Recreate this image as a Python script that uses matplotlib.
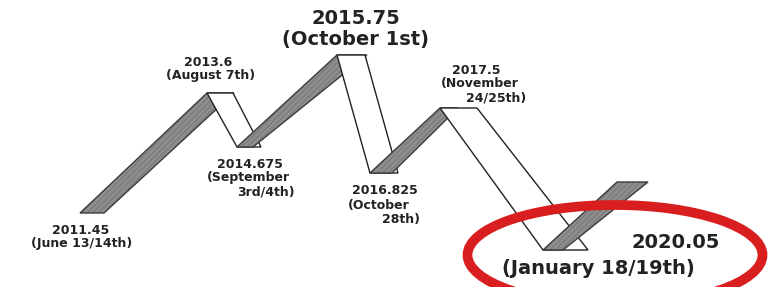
import matplotlib
matplotlib.use("Agg")
import matplotlib.pyplot as plt
from matplotlib.patches import Polygon, Ellipse

# ---- data (ribbon turning points, left edge of ribbon) ----
turn_x = [80, 207, 237, 337, 370, 440, 543, 617]
turn_level = [213, 93, 147, 55, 173, 108, 250, 182]
# ribbon width at start / end of each segment
seg_w_start = [24, 26, 16, 28, 22, 37, 20]
seg_w_end = [27, 24, 30, 28, 18, 45, 31]

label_lines = [
    ["2011.45", "(June 13/14th)"],
    ["2013.6", "(August 7th)"],
    ["2014.675", "(September", "3rd/4th)"],
    ["2015.75", "(October 1st)"],
    ["2016.825", "(October", "28th)"],
    ["2017.5", "(November", "24/25th)"],
    ["2020.05", "(January 18/19th)"],
]
# line centres (x, y) for each label line
label_pos = [
    [(81, 230), (82, 243)],
    [(208, 62), (211, 75)],
    [(250, 165), (248, 178), (266, 192)],
    [(356, 18), (355, 40)],
    [(385, 190), (379, 205), (401, 220)],
    [(476, 70), (480, 83), (496, 98)],
    [(676, 243), (598, 268)],
]
big = [False, False, False, True, False, False, True]

fig = plt.figure(figsize=(7.7, 2.87), dpi=100)
ax = fig.add_axes([0, 0, 1, 1])
ax.set_xlim(0, 770)
ax.set_ylim(287, 0)
ax.axis("off")

z = 2
for i in range(len(turn_x) - 1):
    x0, y0 = turn_x[i], turn_level[i]
    x1, y1 = turn_x[i + 1], turn_level[i + 1]
    w0, w1 = seg_w_start[i], seg_w_end[i]
    pts = [(x0, y0), (x0 + w0, y0), (x1 + w1, y1), (x1, y1)]
    rising = y1 < y0
    if rising:
        ax.add_patch(Polygon(pts, closed=True, facecolor="#8e8e8e",
                             edgecolor="none", zorder=z))
        ax.add_patch(Polygon(pts, closed=True, fill=False, hatch="//////",
                             edgecolor="#7c7c7c", lw=0, zorder=z + 0.1))
        ax.add_patch(Polygon(pts, closed=True, fill=False,
                             edgecolor="#3c3c3c", lw=1.0, zorder=z + 0.2))
    else:
        ax.add_patch(Polygon(pts, closed=True, facecolor="white",
                             edgecolor="#222222", lw=1.0, zorder=z))
    z += 1

for lines, poss, b in zip(label_lines, label_pos, big):
    for t, (x, y) in zip(lines, poss):
        ax.text(x, y, t, ha="center", va="center",
                fontsize=14 if b else 9, fontweight="bold",
                color="#222222", zorder=20)

ax.add_patch(Ellipse((615, 255), 295, 100, fill=False, edgecolor="#d81e1e",
                     lw=7, zorder=15))

fig.savefig("out.png", dpi=100)
